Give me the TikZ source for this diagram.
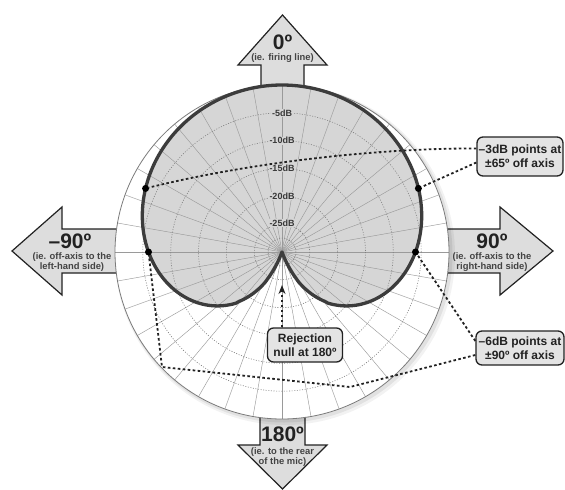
\documentclass[tikz,border=0pt]{standalone}
\usepackage{fontspec}
\setmainfont{Liberation Sans}
\usetikzlibrary{arrows.meta,calc}
\definecolor{cardfill}{HTML}{D6D6D6}
\definecolor{cardline}{HTML}{3C3C3C}
\definecolor{arrowfill}{HTML}{DDDDDD}
\definecolor{boxfill}{HTML}{E4E4E4}
\definecolor{gridline}{HTML}{9A9A9A}
\definecolor{ringline}{HTML}{808080}
\definecolor{inkc}{HTML}{222222}
\begin{document}
\begin{tikzpicture}[x=1pt,y=-1pt,
  bigarrow/.style={fill=arrowfill, draw=inkc, line width=1.2pt, line join=miter},
  dirlabel/.style={font=\fontsize{21}{21}\selectfont\bfseries, text=inkc, inner sep=0pt},
  dirnote/.style={font=\fontsize{9.4}{10.5}\selectfont\bfseries, text=inkc!85, align=center, inner sep=0pt},
  callout/.style={draw=inkc, line width=1.3pt, fill=boxfill, rounded corners=6pt, align=center, font=\fontsize{12}{14}\selectfont\bfseries, text=inkc, inner sep=1pt},
  leader/.style={draw=inkc, line width=1.8pt, dash pattern=on 2.6pt off 2.4pt},
  dotmark/.style={circle, fill=black, inner sep=0pt, minimum size=7pt},
  dblabel/.style={font=\fontsize{9}{9}\selectfont\bfseries, text=inkc!90, fill=cardfill, inner sep=0.6pt},
]
\useasboundingbox (0,0) rectangle (565,490);
% direction arrows
\draw[bigarrow] (261,130) -- (261,65) -- (238,65) -- (282.5,15) -- (327,65) -- (304,65) -- (304,130);
\draw[bigarrow] (160,229) -- (62,229) -- (62,207) -- (12,251) -- (62,295) -- (62,273) -- (160,273);
\draw[bigarrow] (410,229) -- (500,229) -- (500,207) -- (553,251) -- (500,295) -- (500,273) -- (410,273);
\draw[bigarrow] (260,380) -- (260,445) -- (238,445) -- (282.5,489) -- (327,445) -- (305,445) -- (305,380);
% polar chart
\begin{scope}[shift={(282,252)}]
  \fill[black,opacity=0.05] (3,3) circle (170);
  \fill[black,opacity=0.07] (2,2) circle (168.5);
  \fill[white] (0,0) circle (167);
  \fill[cardfill] plot[domain=90:450, samples=361] (\x:{167*max(0,1+ln(max((1-sin(\x))/2,0.0001))/3.4539)}) -- cycle;
  \foreach \a in {0,10,...,350} \draw[gridline, line width=0.45pt] (0,0) -- (\a:167);
  \foreach \r in {13.9,27.8,55.7,83.5,111.3,139.2} \draw[ringline, line width=0.6pt, dash pattern=on 1pt off 1.6pt] (0,0) circle (\r);
  \draw[gridline!80!black, line width=0.8pt] (0,0) circle (167);
  \draw[cardline, line width=3.3pt, line join=round] plot[domain=90:450, samples=361] (\x:{167*max(0,1+ln(max((1-sin(\x))/2,0.0001))/3.4539)}) -- cycle;
  \node[dblabel] (db5) at (0,-139.2) {-5dB};
  \node[dblabel] (db10) at (0,-111.3) {-10dB};
  \node[dblabel] (db15) at (0,-83.5) {-15dB};
  \node[dblabel] (db20) at (0,-55.7) {-20dB};
  \node[dblabel] (db25) at (0,-29) {-25dB};
  \node[dotmark] (p3l) at (-155:150.5) {};
  \node[dotmark] (p3r) at (-25:150.5) {};
  \node[dotmark] (p6l) at (180:133.5) {};
  \node[dotmark] (p6r) at (0:133.5) {};
  \coordinate (nulltip) at (0,33);
\end{scope}
% callouts
\node[callout, minimum width=86pt, minimum height=39pt] (b3) at (520,156.5) {–3dB points at\\±65º off axis};
\node[callout, minimum width=88pt, minimum height=34pt] (b6) at (520,348) {–6dB points at\\±90º off axis};
\node[callout, minimum width=75pt, minimum height=34pt] (brej) at (305,345) {Rejection\\null at 180º};
\draw[leader] ([yshift=8pt]b3.west) .. controls (390,148) and (260,160) .. (p3l);
\draw[leader] ([yshift=-6pt]b3.west) -- (p3r);
\draw[leader] ([yshift=7pt]b6.west) -- (p6r);
\draw[leader] ([yshift=-7pt]b6.west) -- (350,387) -- (162,367) -- (p6l);
\draw[leader, -{Stealth[length=9pt,width=7pt]}] (brej.north -| nulltip) -- (nulltip);
% direction texts
\node[dirlabel] (t0) at (282.5,42.5) {0º};
\node[dirnote] (n0) at (282.5,58) {(ie. firing line)};
\node[dirlabel] (tl) at (70,241) {–90º};
\node[dirnote] (nl) at (72,262) {(ie. off-axis to the\\left-hand side)};
\node[dirlabel] (tr) at (492,241) {90º};
\node[dirnote] (nr) at (492,262) {(ie. off-axis to the\\right-hand side)};
\node[dirlabel] (tb) at (282.5,434) {180º};
\node[dirnote] (nb) at (282.5,457) {(ie. to the rear\\of the mic)};
\end{tikzpicture}
\end{document}
